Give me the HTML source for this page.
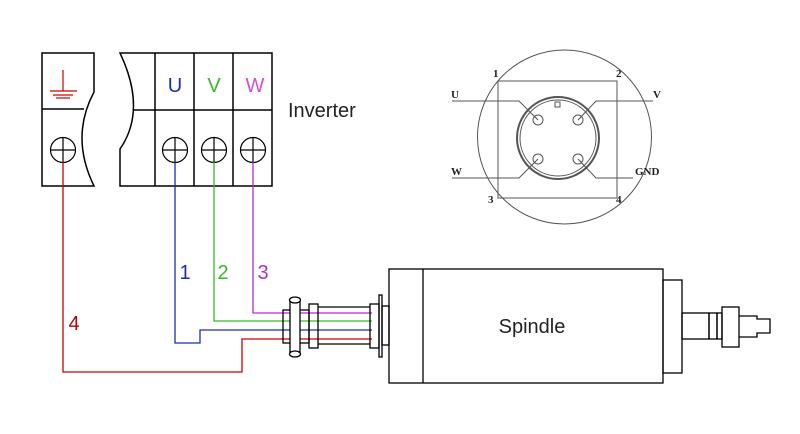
<!DOCTYPE html>
<html><head><meta charset="utf-8"><style>
html,body{margin:0;padding:0;background:#fff;}
svg{display:block;}
</style></head><body>
<svg width="800" height="434" viewBox="0 0 800 434" xmlns="http://www.w3.org/2000/svg">
<g fill="none" stroke="#000" stroke-width="1.5">
<!-- left ground block -->
<path d="M42,53 L94,53 L94,92 Q70,137 94,186 L42,186 Z"/>
<line x1="42" y1="109" x2="84" y2="109"/>
<!-- right block -->
<path d="M120,53 L272,53 L272,186 L120,186 L120,149 Q147,110 120,53 Z"/>
<line x1="133" y1="110" x2="272" y2="110"/>
<line x1="155" y1="53" x2="155" y2="186"/>
<line x1="194" y1="53" x2="194" y2="186"/>
<line x1="233" y1="53" x2="233" y2="186"/>
<g stroke-width="1.2">
<circle cx="63" cy="150" r="12.5"/><line x1="50.5" y1="150" x2="75.5" y2="150"/><line x1="63" y1="137.5" x2="63" y2="162.5"/>
<circle cx="175" cy="150" r="12.5"/><line x1="162.5" y1="150" x2="187.5" y2="150"/><line x1="175" y1="137.5" x2="175" y2="162.5"/>
<circle cx="214" cy="150" r="12.5"/><line x1="201.5" y1="150" x2="226.5" y2="150"/><line x1="214" y1="137.5" x2="214" y2="162.5"/>
<circle cx="253" cy="150" r="12.5"/><line x1="240.5" y1="150" x2="265.5" y2="150"/><line x1="253" y1="137.5" x2="253" y2="162.5"/>
</g>
</g>
<!-- ground symbol -->
<g stroke="#c00" stroke-width="1.2">
<line x1="63" y1="70" x2="63" y2="91"/>
<line x1="50" y1="91" x2="77" y2="91"/>
<line x1="53" y1="95" x2="73" y2="95"/>
<line x1="56" y1="98" x2="70" y2="98"/>
</g>
<g font-family="Liberation Sans, sans-serif" font-size="20">
<text x="175" y="92" fill="#1a2fb0" text-anchor="middle">U</text>
<text x="214" y="92" fill="#3bb82a" text-anchor="middle">V</text>
<text x="255" y="92" fill="#d050d8" text-anchor="middle">W</text>
<text x="288" y="117" fill="#222">Inverter</text>
<text x="185" y="279" fill="#1a2fb0" text-anchor="middle">1</text>
<text x="223" y="279" fill="#3bb82a" text-anchor="middle">2</text>
<text x="263" y="279" fill="#b030c0" text-anchor="middle">3</text>
<text x="74" y="330" fill="#b00" text-anchor="middle">4</text>
<text x="532" y="333" fill="#222" text-anchor="middle">Spindle</text>
</g>
<!-- wires -->
<g fill="none" stroke-width="1.3">
<polyline stroke="#1a2fb0" points="175,162 175,343 200,343 200,330 372,330"/>
<polyline stroke="#3bb82a" points="214,162 214,321 372,321"/>
<polyline stroke="#b030c0" points="253,162 253,313 372,313"/>
<polyline stroke="#c00" points="63,162 63,372 242,372 242,339 372,339"/>
</g>
<!-- connector -->
<g fill="none" stroke="#000" stroke-width="1.3">
<rect x="283" y="310" width="26" height="33"/>
<rect x="290" y="302" width="10" height="50" fill="#fff"/>
<ellipse cx="295" cy="300" rx="5.5" ry="3" fill="#fff"/>
<ellipse cx="295" cy="354" rx="5.5" ry="3" fill="#fff"/>
<rect x="309" y="304" width="9" height="44"/>
<line x1="318" y1="307" x2="370" y2="307"/>
<line x1="318" y1="344" x2="370" y2="344"/>
<rect x="370" y="304" width="9" height="44"/>
<rect x="379" y="295" width="3" height="62"/>
<rect x="382" y="306" width="7" height="39"/>
<!-- spindle -->
<rect x="389" y="269" width="274" height="114"/>
<line x1="423" y1="269" x2="423" y2="383"/>
<rect x="663" y="280" width="19" height="93"/>
<rect x="682" y="313" width="27" height="26"/>
<rect x="709" y="313" width="8" height="26"/>
<rect x="717" y="313" width="5" height="26"/>
<rect x="722" y="307" width="17" height="40"/>
<polyline points="739,316 757,316 757,319 770,319 770,333 757,333 757,337 739,337"/>
</g>
<!-- connector pinout -->
<g fill="none" stroke="#555" stroke-width="1">
<circle cx="564.5" cy="137" r="87"/>
<rect x="498" y="81" width="119" height="117"/>
<circle cx="558" cy="138" r="41" stroke-width="2"/>
<circle cx="558" cy="138" r="38"/>
<rect x="555" y="102" width="5" height="5"/>
<circle cx="538" cy="120" r="5"/>
<circle cx="578" cy="120" r="5"/>
<circle cx="538" cy="159" r="5"/>
<circle cx="578" cy="159" r="5"/>
<polyline points="452,101 519,101 538,120"/>
<polyline points="653,101 596,101 578,120"/>
<polyline points="452,178 519,178 538,159"/>
<polyline points="633,178 596,178 578,159"/>
</g>
<g font-family="Liberation Serif, serif" font-size="11" font-weight="bold" fill="#222">
<text x="493" y="77">1</text>
<text x="616" y="77">2</text>
<text x="488" y="203">3</text>
<text x="616" y="203">4</text>
<text x="451" y="98">U</text>
<text x="653" y="98">V</text>
<text x="451" y="175">W</text>
<text x="635" y="175">GND</text>
</g>
</svg>
</body></html>
